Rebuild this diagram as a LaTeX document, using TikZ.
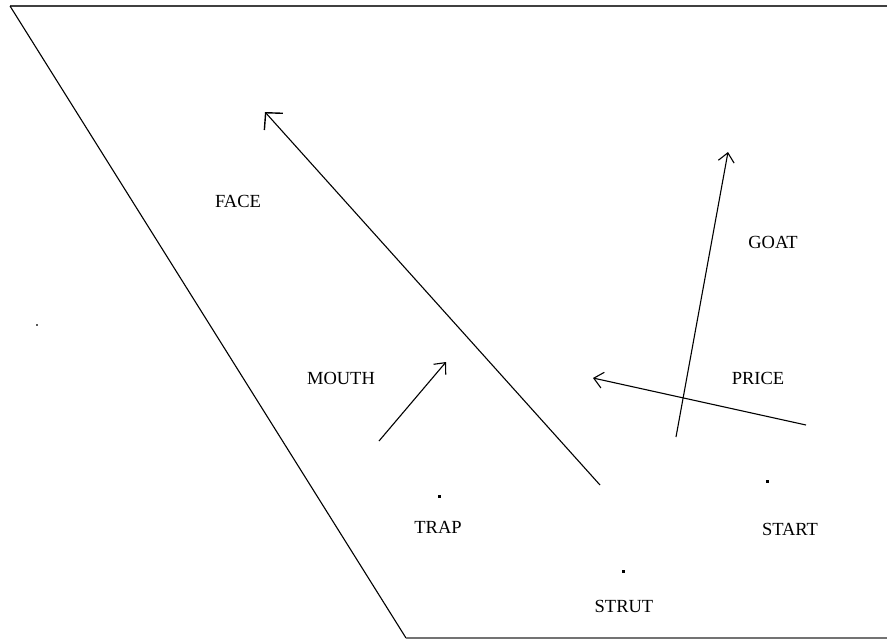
\documentclass[tikz,border=0pt]{standalone}
\usepackage{fontspec}
\setmainfont{Liberation Serif}
\usetikzlibrary{arrows.meta}
\begin{document}
\begin{tikzpicture}[x=1pt,y=-1pt,
  lbl/.style={font=\fontsize{18.5}{18.5}\selectfont, inner sep=0pt},
  dotmark/.style={rectangle, fill=black, inner sep=0pt, minimum size=3pt},
  thinline/.style={line width=1.1pt, black},
  arr/.style={thinline, -{Straight Barb[length=9pt,width=16pt,line width=1.1pt]}},
  bigarr/.style={thinline, -{Straight Barb[length=12pt,width=25pt,line width=1.4pt]}}]
\useasboundingbox (0,0) rectangle (887,640);
\fill[white] (0,0) rectangle (887,640);
% frame
\coordinate (tl) at (10,6);
\coordinate (tr) at (887,6);
\coordinate (bl) at (406,638);
\coordinate (br) at (887,638);
\draw[line width=2.6pt, black!75] (tl) -- (tr);
\draw[thinline] (tl) -- (bl);
\draw[line width=2pt, black!55] (bl) -- (br);
% stray dot
\node[dotmark, minimum size=2.5pt, fill=black!65] (stray) at (37,325) {};
% arrows
\coordinate (a1s) at (600,485);
\coordinate (a1e) at (265,112);
\draw[bigarr] (a1s) -- (a1e);
\coordinate (a2s) at (676,437);
\coordinate (a2e) at (728,152);
\draw[arr] (a2s) -- (a2e);
\coordinate (a3s) at (806,425);
\coordinate (a3e) at (593,378);
\draw[arr] (a3s) -- (a3e);
\coordinate (a4s) at (379,441);
\coordinate (a4e) at (446,362);
\draw[arr] (a4s) -- (a4e);
% labels
\node[lbl] (face) at (238,201) {FACE};
\node[lbl] (goat) at (773,242) {GOAT};
\node[lbl] (mouth) at (341,378) {MOUTH};
\node[lbl] (price) at (758,378) {PRICE};
\node[lbl] (trap) at (438,527) {TRAP};
\node[lbl] (start) at (790,529) {START};
\node[lbl] (strut) at (624,606) {STRUT};
% dots
\node[dotmark] (trapdot) at (439,496) {};
\node[dotmark] (startdot) at (767,481) {};
\node[dotmark] (strutdot) at (623,571) {};
\end{tikzpicture}
\end{document}
